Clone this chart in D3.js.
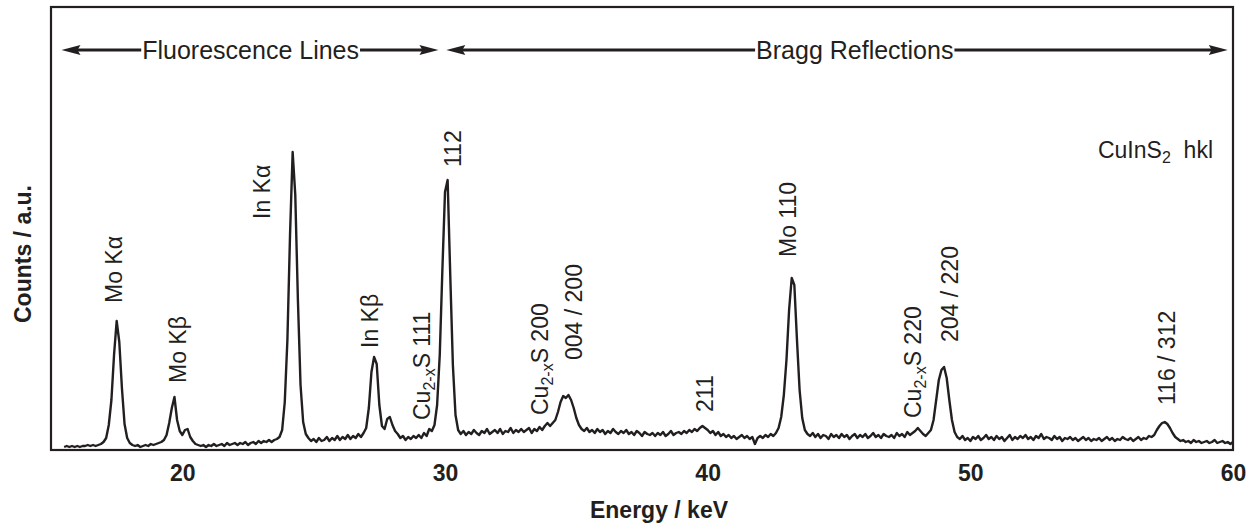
<!DOCTYPE html>
<html>
<head>
<meta charset="utf-8">
<script src="https://cdn.jsdelivr.net/npm/d3@7"></script>
<style>
  body { margin: 0; background: #fff; }
  svg text { font-family: "Liberation Sans", Arial, Helvetica, sans-serif; fill: #231f20; }
</style>
</head>
<body>
<div id="chart"></div>
<script>
// spectrum: channel grid starts at 15.5 keV, 0.1 keV per channel
var eStart = 15.5;
var eStep = 0.1;
var counts = [
  3, 4, 3, 4, 3,                                  // 15.5 - 15.9
  4, 3, 4, 4, 5, 4, 5, 4, 5, 6,                   // 16
  8, 12, 25, 50, 95, 129, 108, 62, 26, 12,        // 17  Mo Ka
  7, 5, 4, 5, 3, 4, 5, 4, 6, 5,                   // 18
  6, 7, 8, 10, 15, 27, 42, 53, 30, 19,            // 19  Mo Kb
  15, 20, 21, 13, 9, 6, 5, 4, 5, 3,               // 20
  5, 4, 6, 4, 5, 6, 4, 7, 5, 6,                   // 21
  7, 5, 7, 6, 8, 5, 7, 8, 6, 9,                   // 22
  7, 9, 8, 10, 8, 10, 11, 13, 20, 48,             // 23
  110, 215, 298, 255, 150, 65, 28, 16, 12, 9,     // 24  In Ka
  11, 8, 12, 9, 10, 13, 9, 12, 10, 14,            // 25
  10, 13, 11, 15, 11, 14, 12, 16, 13, 17,         // 26
  22, 42, 78, 93, 86, 45, 24, 21, 31, 33,         // 27  In Kb
  25, 19, 16, 12, 14, 10, 13, 11, 14, 12,         // 28
  15, 12, 17, 14, 21, 19, 25, 45, 95, 180,        // 29
  258, 270, 175, 85, 35, 20, 16, 19, 15, 18,      // 30  112
  16, 20, 17, 15, 19, 17, 21, 16, 18, 20,         // 31
  17, 21, 16, 19, 18, 22, 17, 20, 18, 21,         // 32
  18, 20, 22, 17, 21, 19, 23, 20, 24, 27,         // 33
  24, 27, 30, 38, 48, 54, 52, 55, 50, 42,         // 34  004/200
  32, 25, 21, 19, 22, 18, 20, 17, 21, 18,         // 35
  20, 16, 19, 17, 21, 18, 16, 19, 17, 20,         // 36
  16, 18, 15, 19, 17, 14, 18, 16, 15, 17,         // 37
  14, 17, 15, 18, 14, 16, 19, 15, 17, 18,         // 38
  16, 19, 17, 20, 18, 21, 19, 22, 24, 22,         // 39  211
  20, 17, 19, 15, 18, 14, 16, 13, 15, 12,         // 40
  14, 11, 13, 15, 12, 14, 11, 13, 6, 12,          // 41
  14, 12, 15, 13, 16, 14, 17, 22, 33, 55,         // 42
  90, 140, 172, 165, 110, 60, 32, 20, 16, 14,     // 43  Mo 110
  17, 13, 16, 12, 15, 14, 11, 16, 13, 15,         // 44
  12, 16, 13, 15, 11, 14, 16, 12, 15, 13,         // 45
  16, 12, 14, 17, 13, 15, 12, 16, 14, 13,         // 46
  15, 12, 17, 14, 16, 13, 18, 15, 17, 19,         // 47
  22, 19, 16, 14, 17, 20, 30, 50, 70, 80,         // 48
  83, 72, 50, 30, 18, 13, 11, 14, 10, 12,         // 49  204/220
  9, 13, 11, 14, 10, 12, 15, 11, 13, 10,          // 50
  14, 11, 13, 9, 12, 15, 10, 13, 11, 14,          // 51
  12, 15, 11, 13, 10, 14, 12, 16, 11, 13,         // 52
  12, 10, 14, 11, 13, 9, 12, 11, 13, 10,          // 53
  12, 9, 11, 13, 10, 12, 9, 11, 10, 12,           // 54
  9, 11, 13, 10, 12, 9, 11, 10, 13, 11,           // 55
  10, 12, 9, 11, 13, 10, 12, 11, 14, 13,          // 56
  15, 20, 24, 27, 28, 26, 22, 17, 13, 11,         // 57  116/312
  9, 10, 8, 9, 7, 10, 8, 9, 7, 8,                 // 58
  9, 7, 8, 10, 7, 8, 9, 7, 8, 6,                  // 59
  8                                               // 60
];

var xTicks = [20, 30, 40, 50, 60];

// peak labels: energy where the label sits and the count level of its lower end
var labelText = ["Mo K\u03b1", "Mo K\u03b2", "In K\u03b1", "In K\u03b2", "Cu|2-x|S 111", "112",
  "Cu|2-x|S 200", "004 / 200", "211", "Mo 110", "Cu|2-x|S 220", "204 / 220", "116 / 312"];
var labelKeV = [17.40, 19.84, 23.04, 27.12, 29.10, 30.28, 33.60, 34.89, 39.89, 43.05, 47.81, 49.22, 57.49];
var labelCount = [147, 67, 231, 102, 30, 283, 35, 90, 38, 193, 32, 108, 45];

// region arrows along the top (keV)
var regionText = ["Fluorescence Lines", "Bragg Reflections"];
var regionFrom = [15.4, 30.05];
var regionTo = [29.75, 59.8];
var regionMid = [22.6, 45.6];

var svgWidth = 1250;
var svgHeight = 527;
var margin = { top: 7, right: 17, bottom: 77, left: 51 };
var width = svgWidth - margin.left - margin.right;
var height = svgHeight - margin.top - margin.bottom;
var ink = "#231f20";

var svg = d3.select("#chart").append("svg")
  .attr("width", svgWidth)
  .attr("height", svgHeight);

var chartGroup = svg.append("g")
  .attr("transform", `translate(${margin.left}, ${margin.top})`);

var xScale = d3.scaleLinear().domain([15, 60]).range([0, width]);
var yScale = d3.scaleLinear().domain([0, height]).range([height, 0]);

var spectrum = counts.map((c, i) => ({ e: eStart + i * eStep, c: c }));

// x axis, labels only
var xAxis = chartGroup.append("g")
  .attr("transform", `translate(0, ${height})`)
  .call(d3.axisBottom(xScale).tickValues(xTicks).tickSize(0).tickPadding(15).tickFormat(d3.format("d")));
xAxis.select(".domain").remove();
xAxis.selectAll("text")
  .style("font-size", "23px")
  .style("font-weight", "bold")
  .attr("fill", ink);

// spectrum line
var line = d3.line()
  .x(d => xScale(d.e))
  .y(d => yScale(d.c));

chartGroup.append("path")
  .datum(spectrum)
  .attr("d", line)
  .attr("fill", "none")
  .attr("stroke", ink)
  .attr("stroke-width", 2.4)
  .attr("stroke-linejoin", "round");

// frame
chartGroup.append("rect")
  .attr("width", width)
  .attr("height", height)
  .attr("fill", "none")
  .attr("stroke", ink)
  .attr("stroke-width", 2.2);

// peak labels, rotated
labelText.forEach(function (t, i) {
  var txt = chartGroup.append("text")
    .attr("transform", `translate(${xScale(labelKeV[i])}, ${yScale(labelCount[i])}) rotate(-90)`)
    .attr("dy", "0.36em")
    .style("font-size", "23px");
  var parts = t.split("|");
  if (parts.length == 1) {
    txt.text(t);
  } else {
    txt.append("tspan").text(parts[0]);
    txt.append("tspan").attr("dy", 5).style("font-size", "16px").text(parts[1]);
    txt.append("tspan").attr("dy", -5).text(parts[2]);
  }
});

// CuInS2 hkl
var hkl = chartGroup.append("text")
  .attr("x", 1213 - margin.left)
  .attr("y", 158 - margin.top)
  .attr("text-anchor", "end")
  .style("font-size", "23px");
hkl.append("tspan").text("CuInS");
hkl.append("tspan").attr("dy", 5).style("font-size", "16px").text("2");
hkl.append("tspan").attr("dy", -5).text("\u00a0\u00a0hkl");

// region arrows with their titles
var arrowY = 50 - margin.top;
regionText.forEach(function (t, i) {
  var x0 = xScale(regionFrom[i]);
  var x1 = xScale(regionTo[i]);
  var xm = xScale(regionMid[i]);
  var label = chartGroup.append("text")
    .attr("x", xm)
    .attr("y", arrowY + 8.5)
    .attr("text-anchor", "middle")
    .style("font-size", "25px")
    .text(t);
  var half = label.node().getComputedTextLength() / 2;
  chartGroup.append("line")
    .attr("x1", x0 + 10).attr("x2", xm - half - 1)
    .attr("y1", arrowY).attr("y2", arrowY)
    .attr("stroke", ink).attr("stroke-width", 3);
  chartGroup.append("line")
    .attr("x1", xm + half + 1).attr("x2", x1 - 10)
    .attr("y1", arrowY).attr("y2", arrowY)
    .attr("stroke", ink).attr("stroke-width", 3);
  chartGroup.append("path")
    .attr("d", `M${x0},${arrowY} L${x0 + 19},${arrowY - 5} L${x0 + 16},${arrowY} L${x0 + 19},${arrowY + 5} Z`)
    .attr("fill", ink);
  chartGroup.append("path")
    .attr("d", `M${x1},${arrowY} L${x1 - 19},${arrowY - 5} L${x1 - 16},${arrowY} L${x1 - 19},${arrowY + 5} Z`)
    .attr("fill", ink);
});

// axis titles
svg.append("text")
  .attr("x", 659)
  .attr("y", 518)
  .attr("text-anchor", "middle")
  .style("font-size", "23px")
  .style("font-weight", "bold")
  .text("Energy / keV");

svg.append("text")
  .attr("transform", "translate(31, 254) rotate(-90)")
  .attr("text-anchor", "middle")
  .style("font-size", "23px")
  .style("font-weight", "bold")
  .text("Counts / a.u.");
</script>
</body>
</html>
